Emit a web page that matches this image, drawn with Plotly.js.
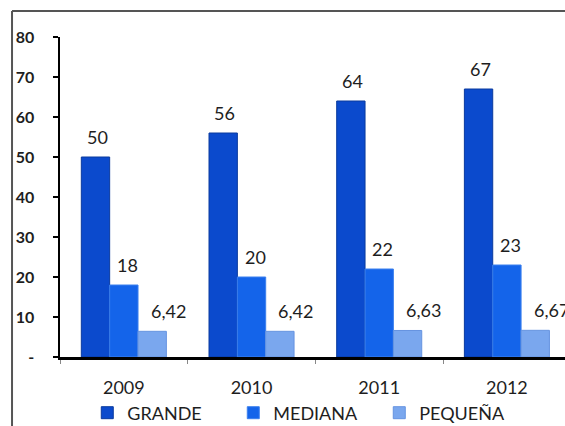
<!DOCTYPE html>
<html>
<head>
<meta charset="utf-8">
<script src="https://cdn.plot.ly/plotly-3.0.1.min.js"></script>
<style>html,body{margin:0;padding:0;background:#fff;}#chart{width:565px;height:426px;}</style>
</head>
<body>
<div id="chart"></div>
<script>
// ---- data ----
const years = ["2009", "2010", "2011", "2012"];
const seriesNames = ["GRANDE", "MEDIANA", "PEQUEÑA"];
const grande = [50, 56, 64, 67];
const mediana = [18, 20, 22, 23];
const pequena = [6.42, 6.42, 6.63, 6.67];
const yTickVals = [0, 10, 20, 30, 40, 50, 60, 70, 80];
const yTickText = ["-", "10", "20", "30", "40", "50", "60", "70", "80"];

// ---- style ----
const colors = ["#0B4ACD", "#1464EA", "#7AA7EE"];
const edgeColors = ["#0A3A9E", "#3C80EE", "#6593E0"];
const FONT = "Lato, 'Open Sans', sans-serif";
const allSeries = [grande, mediana, pequena];

const traces = allSeries.map((vals, i) => ({
  type: "bar",
  name: seriesNames[i],
  x: years,
  y: vals,
  marker: { color: colors[i], line: { color: edgeColors[i], width: 1 } },
  hoverinfo: "none"
}));

// value labels above bars
const barPx = 28.3;
const labelShift = [1.5, 3.5, 16];
const fmt = v => String(v).replace(".", ",");
const annotations = [];
allSeries.forEach((vals, i) => {
  vals.forEach((v, j) => {
    annotations.push({
      x: j, y: v, xref: "x", yref: "y",
      text: fmt(v), showarrow: false,
      xanchor: "center", yanchor: "middle",
      xshift: (i - 1) * barPx + labelShift[i], yshift: 20,
      font: { family: FONT, size: 18, color: "#1e1e1e" }
    });
  });
});

const layout = {
  width: 565, height: 426,
  margin: { l: 60, r: 0, t: 37, b: 69, autoexpand: false },
  paper_bgcolor: "#ffffff", plot_bgcolor: "#ffffff",
  barmode: "group", bargap: 0.334, bargroupgap: 0,
  showlegend: true,
  legend: {
    orientation: "h", x: 0.054, xanchor: "left", y: -0.175, yanchor: "middle",
    font: { family: FONT, size: 18, color: "#1e1e1e" },
    entrywidth: 101, traceorder: "normal", itemclick: false
  },
  xaxis: {
    type: "category", range: [-0.5, 3.455],
    showline: true, linecolor: "#000", linewidth: 3,
    ticks: "outside", tickson: "boundaries", ticklen: 4, tickcolor: "#888", tickwidth: 1,
    ticklabelstandoff: 12,
    tickfont: { family: FONT, size: 18, color: "#1e1e1e" },
    showgrid: false, zeroline: false, fixedrange: true
  },
  yaxis: {
    range: [0, 80], tickvals: yTickVals, ticktext: yTickText,
    showline: true, linecolor: "#000", linewidth: 2.5,
    ticks: "outside", ticklen: 5, tickcolor: "#000", tickwidth: 1.5,
    ticklabelstandoff: 15,
    tickfont: { family: FONT, size: 16, color: "#1e1e1e", weight: "bold" },
    showgrid: false, zeroline: false, fixedrange: true
  },
  annotations: annotations,
  shapes: [
    { type: "line", xref: "paper", yref: "paper", x0: -0.095, x1: 1.05, y0: 1.081, y1: 1.081,
      line: { color: "#555", width: 2 } },
    { type: "line", xref: "paper", yref: "paper", x0: -0.095, x1: -0.095, y0: 1.081, y1: -0.3,
      line: { color: "#555", width: 2 } }
  ]
};

Plotly.newPlot("chart", traces, layout, { staticPlot: true, displayModeBar: false });
</script>
</body>
</html>
